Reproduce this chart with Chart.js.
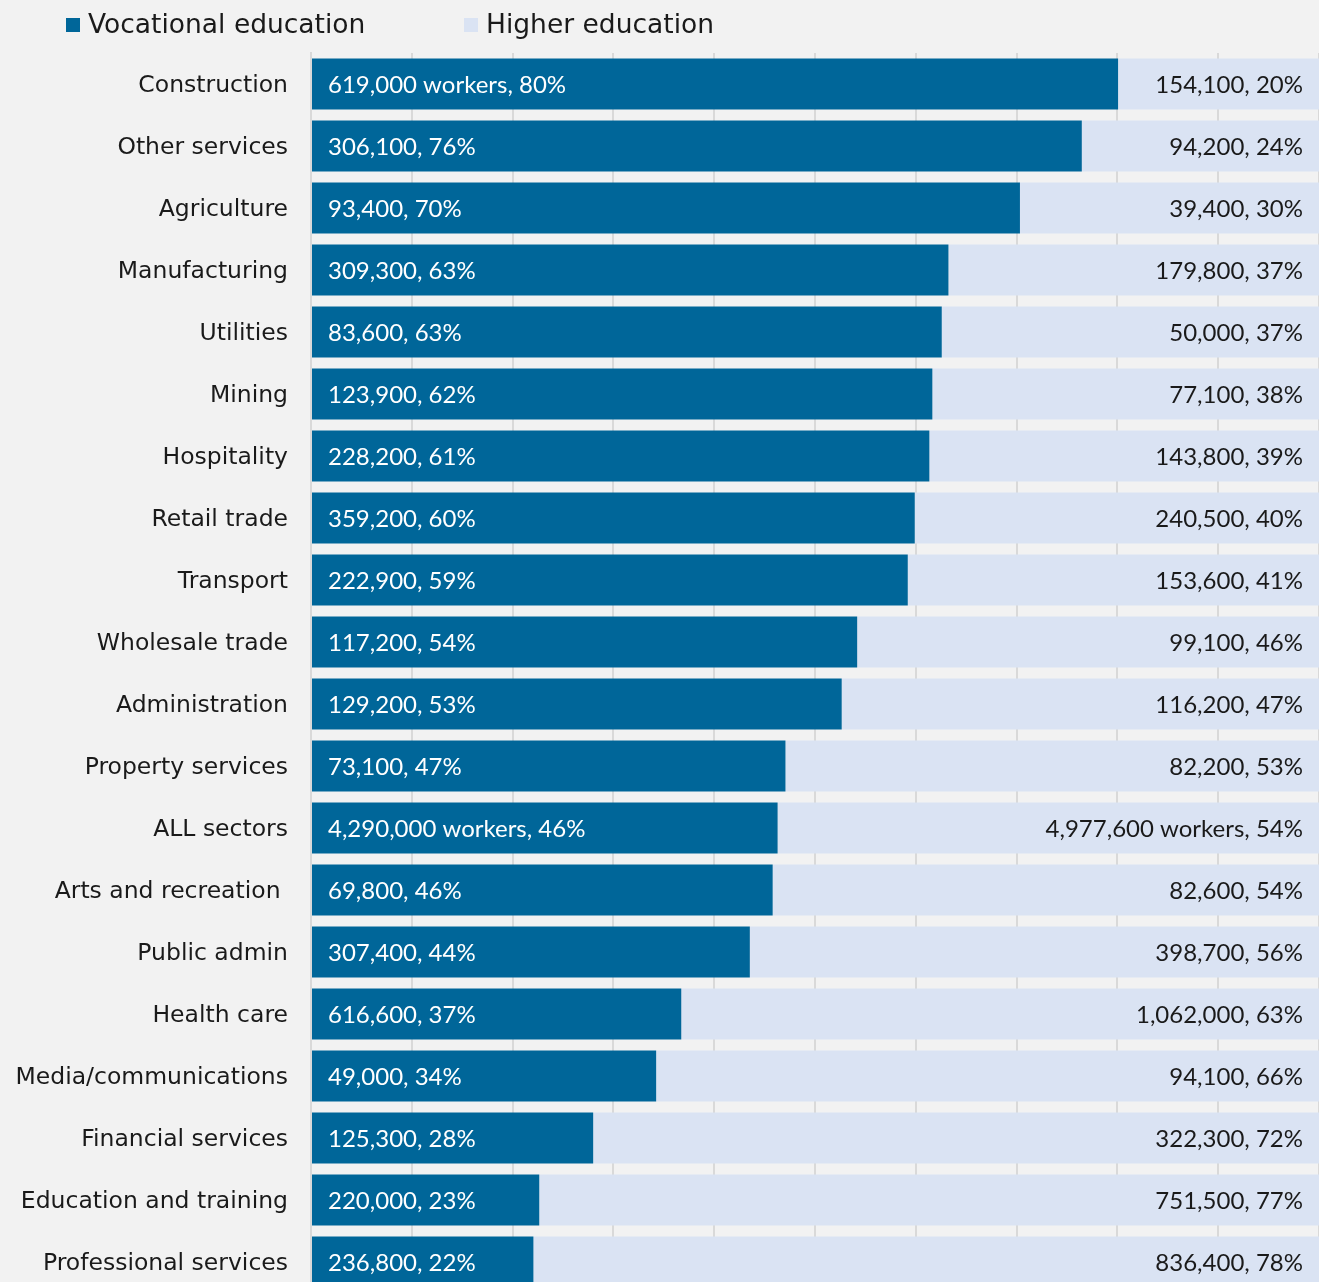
<!DOCTYPE html>
<html>
<head>
<meta charset="utf-8">
<script src="https://cdn.jsdelivr.net/npm/chart.js@4.4.1/dist/chart.umd.min.js"></script>
<style>
    html, body { margin: 0; padding: 0; background: #f2f2f2; overflow: hidden; }
    #wrap { position: relative; width: 1319px; height: 1300px; }
</style>
</head>
<body>
<div id="wrap"><canvas id="eduChart"></canvas></div>
<script>
const sectors = [
    'Construction', 'Other services', 'Agriculture', 'Manufacturing', 'Utilities',
    'Mining', 'Hospitality', 'Retail trade', 'Transport', 'Wholesale trade',
    'Administration', 'Property services', 'ALL sectors', 'Arts and recreation ',
    'Public admin', 'Health care', 'Media/communications', 'Financial services',
    'Education and training', 'Professional services'
];
const vocationalWorkers = [
    619000, 306100, 93400, 309300, 83600, 123900, 228200, 359200, 222900, 117200,
    129200, 73100, 4290000, 69800, 307400, 616600, 49000, 125300, 220000, 236800
];
const higherWorkers = [
    154100, 94200, 39400, 179800, 50000, 77100, 143800, 240500, 153600, 99100,
    116200, 82200, 4977600, 82600, 398700, 1062000, 94100, 322300, 751500, 836400
];
const vocationalPct = [80, 76, 70, 63, 63, 62, 61, 60, 59, 54, 53, 47, 46, 46, 44, 37, 34, 28, 23, 22];
const higherPct = [20, 24, 30, 37, 37, 38, 39, 40, 41, 46, 47, 53, 54, 54, 56, 63, 66, 72, 77, 78];
// rows whose label spells out "workers"
const vocationalUnitRows = ['Construction', 'ALL sectors'];
const higherUnitRows = ['ALL sectors'];
const xTicks = [0, 10, 20, 30, 40, 50, 60, 70, 80, 90, 100];

const DARK = '#006699';
const LIGHT = '#dae3f3';
const TEXT = '#1a1a1a';
const LABEL_FONT = '"DejaVu Sans", sans-serif';
const VALUE_FONT = 'Lato, "Noto Sans", sans-serif';

document.addEventListener('DOMContentLoaded', () => {
    initChart();
});

function share(a, b) {
    return a.map((v, i) => v / (v + b[i]) * 100);
}

function labelText(count, pct, withUnit) {
    return count.toLocaleString('en-US') + (withUnit ? ' workers' : '') + ', ' + pct + '%';
}

// legend and in-bar value labels
const labelsPlugin = {
    id: 'barLabels',
    afterDatasetsDraw(chart) {
        const ctx = chart.ctx;
        ctx.save();
        ctx.font = '24px ' + VALUE_FONT;
        ctx.textBaseline = 'middle';

        const dark = chart.getDatasetMeta(0).data;
        const light = chart.getDatasetMeta(1).data;
        sectors.forEach((name, i) => {
            const d = dark[i];
            ctx.fillStyle = '#ffffff';
            ctx.textAlign = 'left';
            ctx.fillText(labelText(vocationalWorkers[i], vocationalPct[i], vocationalUnitRows.includes(name)), d.base + 16, d.y + 1);
            const l = light[i];
            ctx.fillStyle = TEXT;
            ctx.textAlign = 'right';
            ctx.fillText(labelText(higherWorkers[i], higherPct[i], higherUnitRows.includes(name)), l.x - 16, l.y + 1);
        });

        // legend
        const items = chart.data.datasets.map((ds, i) => ({ text: ds.label, color: ds.backgroundColor, x: [66, 464][i] }));
        ctx.font = '26.5px ' + LABEL_FONT;
        ctx.textAlign = 'left';
        items.forEach(it => {
            ctx.fillStyle = it.color;
            ctx.fillRect(it.x, 18, 14, 14);
            ctx.fillStyle = TEXT;
            ctx.fillText(it.text, it.x + 22, 26);
        });
        ctx.restore();
    }
};

function initChart() {
    const ctx = document.getElementById('eduChart');
    new Chart(ctx, {
        type: 'bar',
        data: {
            labels: sectors,
            datasets: [
                {
                    label: 'Vocational education',
                    data: share(vocationalWorkers, higherWorkers),
                    backgroundColor: DARK,
                    borderWidth: 0
                },
                {
                    label: 'Higher education',
                    data: share(higherWorkers, vocationalWorkers),
                    backgroundColor: LIGHT,
                    borderWidth: 0
                }
            ]
        },
        options: {
            indexAxis: 'y',
            responsive: true,
            maintainAspectRatio: false,
            animation: false,
            barPercentage: 0.82,
            categoryPercentage: 1,
            layout: { padding: { top: 53, bottom: 7, left: 0, right: 0 } },
            plugins: {
                legend: { display: false },
                tooltip: { enabled: false }
            },
            scales: {
                x: {
                    stacked: true,
                    min: 0,
                    max: 100,
                    afterBuildTicks: scale => { scale.ticks = xTicks.map(v => ({ value: v })); },
                    afterFit: scale => { scale.height = 0; },
                    ticks: { display: false },
                    grid: { color: '#d9d9d9', lineWidth: 2, drawTicks: false },
                    border: { display: false }
                },
                y: {
                    stacked: true,
                    afterFit: scale => {
                        scale.width = 311;
                        scale.paddingTop = 0;
                        scale.paddingBottom = 0;
                    },
                    grid: { display: false, drawTicks: false },
                    border: { display: true, color: '#d9d9d9', width: 2 },
                    ticks: {
                        color: TEXT,
                        padding: 23,
                        labelOffset: 2,
                        font: { family: LABEL_FONT, size: 23.5 }
                    }
                }
            }
        },
        plugins: [labelsPlugin]
    });
}
</script>
</body>
</html>
